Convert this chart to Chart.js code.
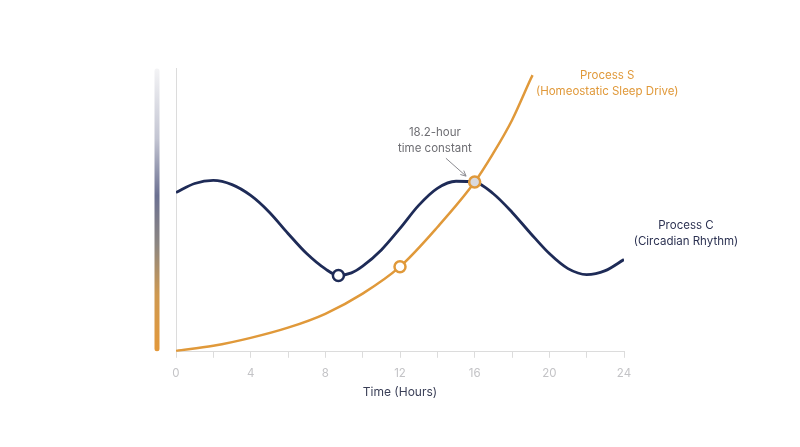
<!DOCTYPE html>
<html>
<head>
<meta charset="utf-8">
<script src="https://cdn.jsdelivr.net/npm/chart.js@4"></script>
<style>
  html, body { margin: 0; padding: 0; background: #ffffff; }
  #wrap { width: 800px; height: 447px; }
</style>
</head>
<body>
<div id="wrap"><canvas id="sleepChart"></canvas></div>
<script>
// Process C (circadian) - hours and level
const hoursC = [0, 1, 2, 3, 4, 5, 6, 7, 8, 8.7, 9.4, 10, 11, 12, 13, 14, 15, 16, 17, 18, 19, 20, 21, 22, 23, 24];
const processC = [56.1, 59.3, 60.4, 58.9, 55.1, 49.2, 41.7, 34.6, 29.2, 26.9, 27.8, 30.2, 35.9, 43.5, 51.6, 57.6, 60.1, 59.8, 55.7, 49.2, 41.7, 34.6, 29.3, 27.2, 28.6, 32.5];

// Process S (homeostatic) - hours and level
const hoursS = [0, 2, 4, 6, 8, 10, 12, 14, 16, 17, 18, 19, 19.1];
const processS = [0.3, 2.1, 4.9, 8.5, 13.4, 20.5, 30.0, 43.9, 59.8, 70.0, 81.6, 96.1, 97.5];

// highlighted points
const markerCHours = [8.7];
const markerCValues = [26.9];
const markerSHours = [12, 16];
const markerSValues = [30.0, 59.8];

const xLabelHours = [0, 4, 8, 12, 16, 20, 24];

const navy = '#1e2b57';
const orange = '#e0993a';
const font = 'Inter, "Open Sans", sans-serif';

function pts(xs, ys) {
    return xs.map((x, i) => ({x: x, y: ys[i]}));
}

// text annotations anchored in data coordinates
const notes = [
    {x: 23.1, y: 97.2, lines: ['Process S', '(Homeostatic Sleep Drive)'], color: orange},
    {x: 13.87, y: 77.4, lines: ['18.2-hour', 'time constant'], color: '#6e6e73'},
    {x: 27.32, y: 44.5, lines: ['Process C', '(Circadian Rhythm)'], color: '#2c3252'}
];
const arrowFrom = {x: 14.46, y: 68.2};
const arrowTo = {x: 15.54, y: 61.9};

const decorations = {
    id: 'decorations',
    beforeDatasetsDraw(chart) {
        const c = chart.ctx;
        const ys = chart.scales.y;
        const area = chart.chartArea;
        const top = ys.getPixelForValue(100);
        const bottom = ys.getPixelForValue(0);
        // gradient bar on the left
        const bx = area.left - 19;
        const g = c.createLinearGradient(0, top, 0, bottom);
        g.addColorStop(0, '#f4f4f6');
        g.addColorStop(0.25, '#c3c5d2');
        g.addColorStop(0.45, '#6c7192');
        g.addColorStop(0.62, '#8c8682');
        g.addColorStop(0.8, '#cf9950');
        g.addColorStop(1, '#e3983a');
        c.save();
        c.strokeStyle = g;
        c.lineWidth = 5;
        c.lineCap = 'round';
        c.beginPath();
        c.moveTo(bx, top + 3);
        c.lineTo(bx, bottom - 3);
        c.stroke();
        // y axis line
        c.strokeStyle = '#dcdcdc';
        c.lineWidth = 1;
        c.lineCap = 'butt';
        c.beginPath();
        c.moveTo(area.left + 0.5, top);
        c.lineTo(area.left + 0.5, bottom);
        c.stroke();
        c.restore();
    },
    afterDatasetsDraw(chart) {
        const c = chart.ctx;
        const xs = chart.scales.x;
        const ys = chart.scales.y;
        c.save();
        c.font = '11.5px ' + font;
        c.textAlign = 'center';
        c.textBaseline = 'middle';
        notes.forEach(n => {
            const px = xs.getPixelForValue(n.x);
            const py = ys.getPixelForValue(n.y);
            c.fillStyle = n.color;
            n.lines.forEach((t, i) => c.fillText(t, px, py + i * 16));
        });
        // arrow
        const x1 = xs.getPixelForValue(arrowFrom.x), y1 = ys.getPixelForValue(arrowFrom.y);
        const x2 = xs.getPixelForValue(arrowTo.x), y2 = ys.getPixelForValue(arrowTo.y);
        const a = Math.atan2(y2 - y1, x2 - x1);
        c.strokeStyle = '#8a8a90';
        c.lineWidth = 1;
        c.beginPath();
        c.moveTo(x1, y1);
        c.lineTo(x2, y2);
        c.moveTo(x2 - 6 * Math.cos(a - 0.45), y2 - 6 * Math.sin(a - 0.45));
        c.lineTo(x2, y2);
        c.lineTo(x2 - 6 * Math.cos(a + 0.45), y2 - 6 * Math.sin(a + 0.45));
        c.stroke();
        c.restore();
    }
};

new Chart(document.getElementById('sleepChart').getContext('2d'), {
    type: 'line',
    data: {
        datasets: [{
            label: 'marker C',
            data: pts(markerCHours, markerCValues),
            showLine: false,
            pointRadius: 5.5,
            pointBorderWidth: 2.5,
            pointBorderColor: navy,
            pointBackgroundColor: '#ffffff',
            order: 0
        }, {
            label: 'marker S',
            data: pts(markerSHours, markerSValues),
            showLine: false,
            pointRadius: 5.5,
            pointBorderWidth: 2.5,
            pointBorderColor: orange,
            pointBackgroundColor: ['#ffffff', '#d9d9de'],
            order: 0
        }, {
            label: 'Process C',
            data: pts(hoursC, processC),
            borderColor: navy,
            borderWidth: 2.8,
            pointRadius: 0,
            cubicInterpolationMode: 'monotone',
            order: 2
        }, {
            label: 'Process S',
            data: pts(hoursS, processS),
            borderColor: orange,
            borderWidth: 2.5,
            pointRadius: 0,
            cubicInterpolationMode: 'monotone',
            order: 1
        }]
    },
    options: {
        responsive: true,
        maintainAspectRatio: false,
        animation: false,
        layout: {
            padding: {left: 176, right: 176, top: 68, bottom: 47}
        },
        plugins: {
            legend: {display: false},
            tooltip: {enabled: false}
        },
        scales: {
            x: {
                type: 'linear',
                min: 0,
                max: 24,
                ticks: {
                    stepSize: 2,
                    autoSkip: false,
                    maxRotation: 0,
                    padding: 9,
                    color: '#c3c3c6',
                    font: {family: font, size: 11.5},
                    callback: v => xLabelHours.includes(v) ? String(v) : ''
                },
                grid: {
                    drawOnChartArea: false,
                    drawTicks: true,
                    tickLength: 6,
                    color: '#dcdcdc'
                },
                border: {color: '#dcdcdc', width: 1},
                title: {
                    display: true,
                    text: 'Time (Hours)',
                    color: '#3a3f57',
                    font: {family: font, size: 12},
                    padding: {top: -4, bottom: 0}
                }
            },
            y: {
                display: false,
                min: 0,
                max: 100
            }
        }
    },
    plugins: [decorations]
});
</script>
</body>
</html>
